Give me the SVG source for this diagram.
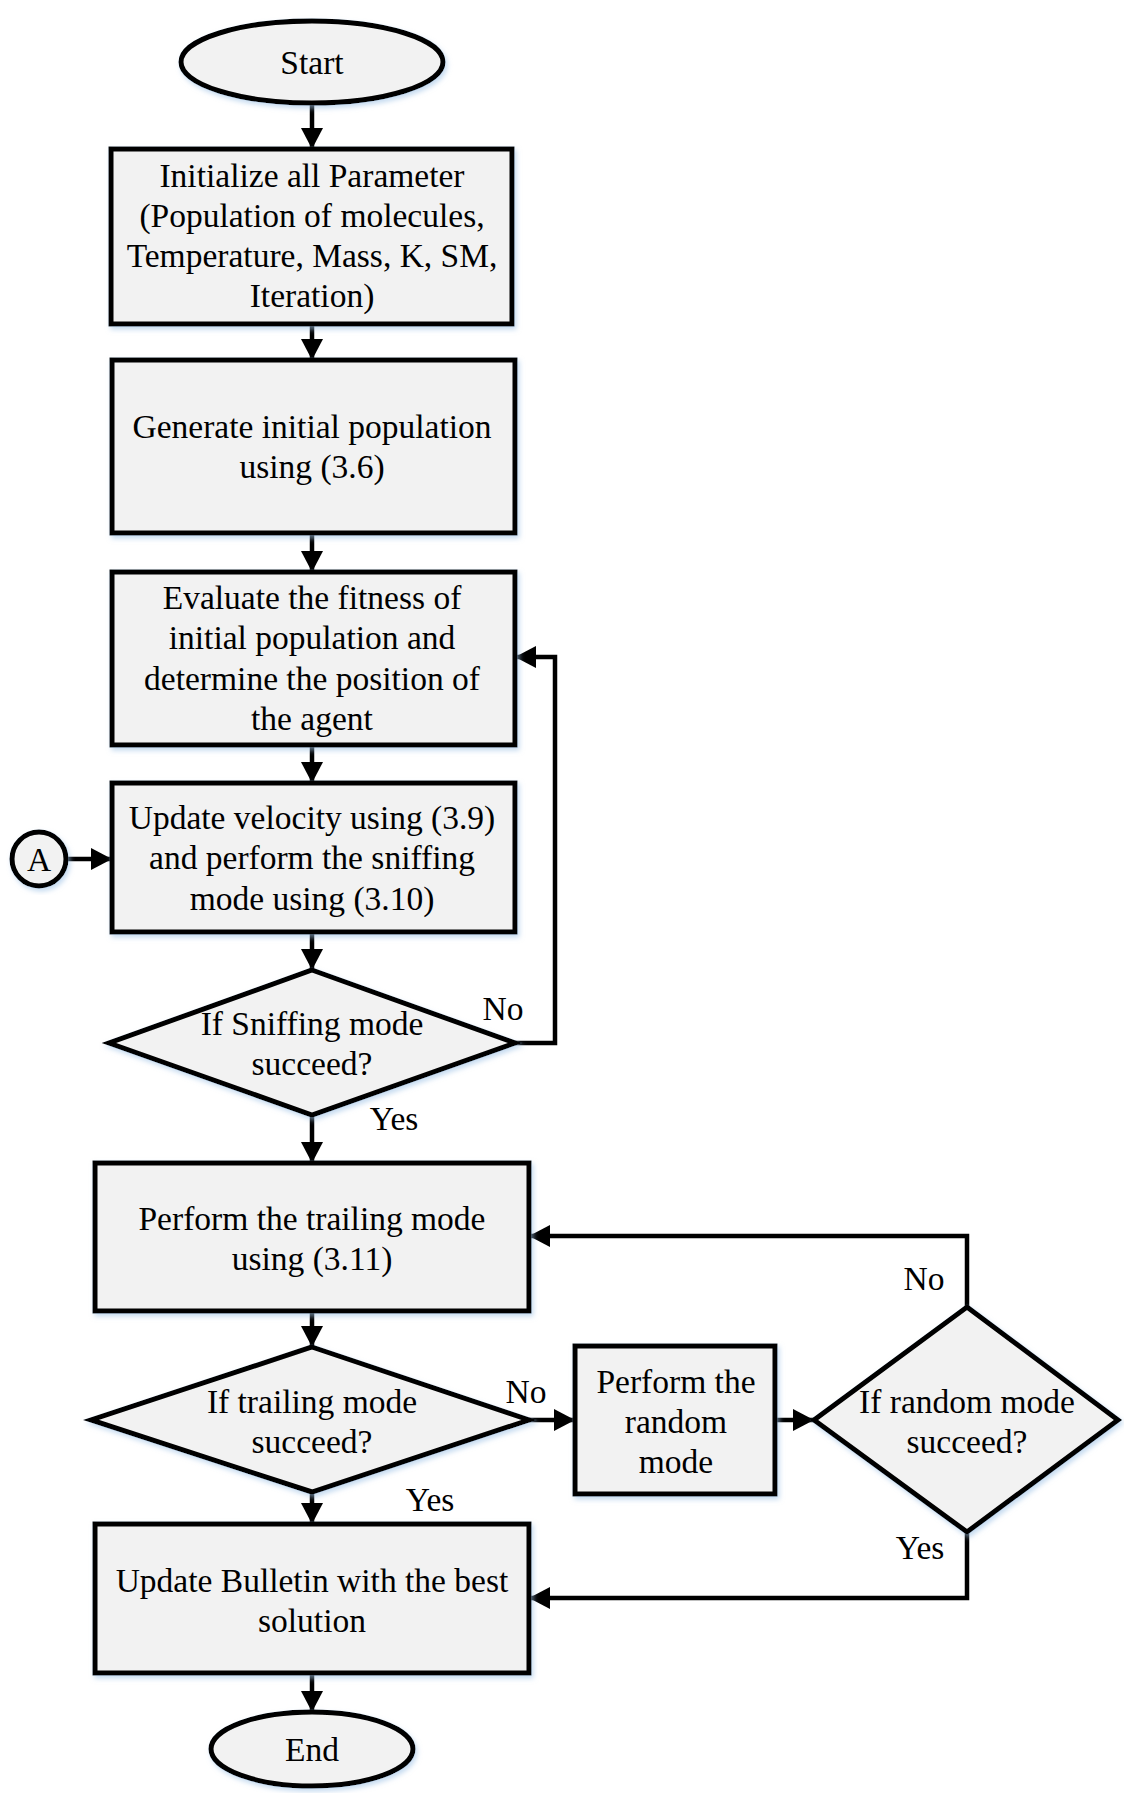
<svg xmlns="http://www.w3.org/2000/svg" width="1124" height="1793" viewBox="0 0 1124 1793">
  <defs>
    <filter id="glow" x="-10%" y="-10%" width="125%" height="125%">
      <feDropShadow dx="2" dy="3" stdDeviation="2.5" flood-color="#9fc3e6" flood-opacity="0.6"/>
    </filter>
    <marker id="ah" markerUnits="userSpaceOnUse" markerWidth="24" markerHeight="24" refX="21" refY="11" orient="auto">
      <path d="M0,0 L21,11 L0,22 Z" fill="#000"/>
    </marker>
    <style>
      .shape { fill: #f2f2f2; stroke: #000; stroke-width: 5; filter: url(#glow); }
      .edge { fill: none; stroke: #000; stroke-width: 4.5; marker-end: url(#ah); }
      text { font-family: "Liberation Serif", "Times New Roman", serif; font-size: 33.5px; fill: #000; text-anchor: middle; dominant-baseline: central; }
    </style>
  </defs>

  <rect width="1124" height="1793" fill="#fff"/>

  <!-- connectors and their branch labels -->
  <g id="connectors">
    <path class="edge" d="M312,103 V149"/>
    <path class="edge" d="M312,324 V360"/>
    <path class="edge" d="M312,533 V572"/>
    <path class="edge" d="M312,745 V783"/>
    <path class="edge" d="M312,932 V970"/>
    <path class="edge" d="M312,1115 V1163"/>
    <path class="edge" d="M312,1311 V1347"/>
    <path class="edge" d="M312,1492 V1524"/>
    <path class="edge" d="M312,1673 V1712"/>
    <path class="edge" d="M66,859 H112"/>
    <path class="edge" d="M515,1043 H555 V657 H515"/>
    <path class="edge" d="M529,1420 H575"/>
    <path class="edge" d="M775,1420 H814"/>
    <path class="edge" d="M967,1307 V1236 H529"/>
    <path class="edge" d="M967,1532 V1598 H529"/>
    <text x="503" y="1008">No</text>
    <text x="394" y="1118">Yes</text>
    <text x="526" y="1391">No</text>
    <text x="430" y="1499">Yes</text>
    <text x="924" y="1278">No</text>
    <text x="920" y="1547">Yes</text>
  </g>

  <g id="start">
    <ellipse class="shape" cx="312" cy="62" rx="131" ry="41"/>
    <text x="312" y="62">Start</text>
  </g>

  <g id="init">
    <rect class="shape" x="111" y="149" width="401" height="175"/>
    <text x="312" y="175">Initialize all Parameter</text>
    <text x="312" y="215">(Population of molecules,</text>
    <text x="312" y="255">Temperature, Mass, K, SM,</text>
    <text x="312" y="295">Iteration)</text>
  </g>

  <g id="generate">
    <rect class="shape" x="112" y="360" width="403" height="173"/>
    <text x="312" y="426">Generate initial population</text>
    <text x="312" y="466">using (3.6)</text>
  </g>

  <g id="evaluate">
    <rect class="shape" x="112" y="572" width="403" height="173"/>
    <text x="312" y="597">Evaluate the fitness of</text>
    <text x="312" y="637">initial population and</text>
    <text x="312" y="678">determine the position of</text>
    <text x="312" y="718">the agent</text>
  </g>

  <g id="connector-a">
    <circle class="shape" cx="39" cy="859" r="27"/>
    <text x="39" y="859">A</text>
  </g>

  <g id="sniffing">
    <rect class="shape" x="112" y="783" width="403" height="149"/>
    <text x="312" y="817">Update velocity using (3.9)</text>
    <text x="312" y="857">and perform the sniffing</text>
    <text x="312" y="898">mode using (3.10)</text>
  </g>

  <g id="sniff-check">
    <polygon class="shape" points="312,970 515,1043 312,1115 109,1043"/>
    <text x="312" y="1023">If Sniffing mode</text>
    <text x="312" y="1063">succeed?</text>
  </g>

  <g id="trailing">
    <rect class="shape" x="95" y="1163" width="434" height="148"/>
    <text x="312" y="1218">Perform the trailing mode</text>
    <text x="312" y="1258">using (3.11)</text>
  </g>

  <g id="trail-check">
    <polygon class="shape" points="312,1347 529,1420 312,1492 91,1420"/>
    <text x="312" y="1401">If trailing mode</text>
    <text x="312" y="1441">succeed?</text>
  </g>

  <g id="random">
    <rect class="shape" x="575" y="1346" width="200" height="148"/>
    <text x="676" y="1381">Perform the</text>
    <text x="676" y="1421">random</text>
    <text x="676" y="1461">mode</text>
  </g>

  <g id="random-check">
    <polygon class="shape" points="967,1307 1118,1420 967,1532 814,1420"/>
    <text x="967" y="1401">If random mode</text>
    <text x="967" y="1441">succeed?</text>
  </g>

  <g id="bulletin">
    <rect class="shape" x="95" y="1524" width="434" height="149"/>
    <text x="312" y="1580">Update Bulletin with the best</text>
    <text x="312" y="1620">solution</text>
  </g>

  <g id="end">
    <ellipse class="shape" cx="312" cy="1749" rx="101" ry="37"/>
    <text x="312" y="1749">End</text>
  </g>
</svg>
